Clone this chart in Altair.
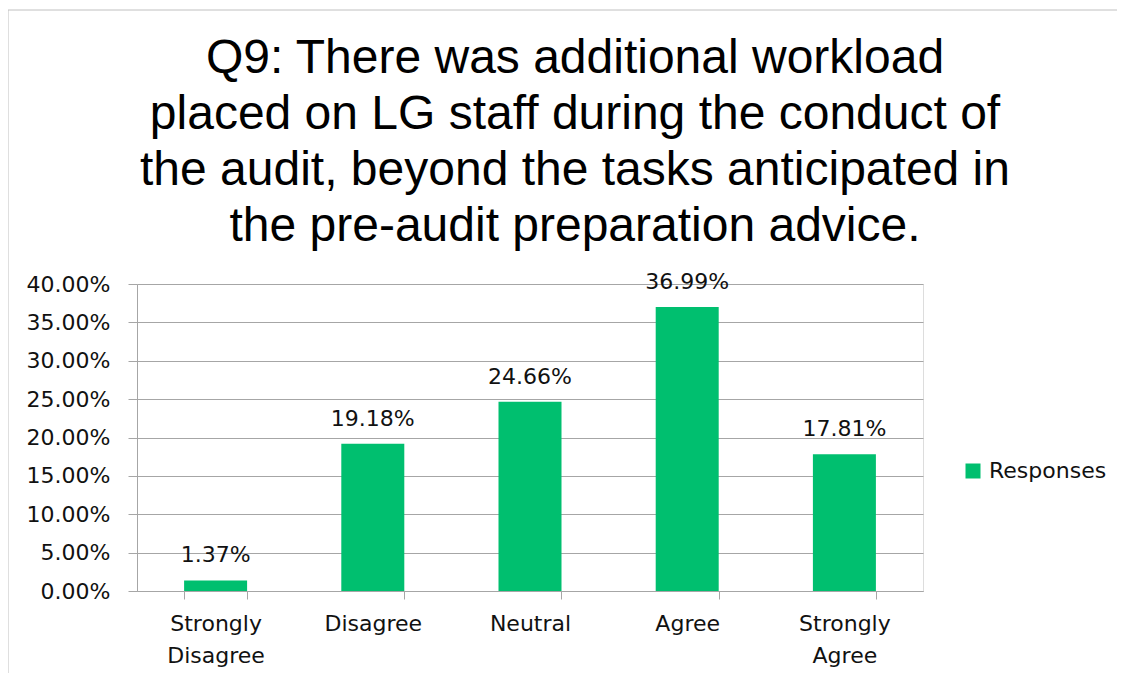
import altair as alt
import pandas as pd

categories = ["Strongly Disagree", "Disagree", "Neutral", "Agree", "Strongly Agree"]
values = [1.37, 19.18, 24.66, 36.99, 17.81]
series = ["Responses"] * 5
y_ticks = [0, 0.05, 0.1, 0.15, 0.2, 0.25, 0.3, 0.35, 0.4]
title_lines = [
    "Q9: There was additional workload",
    "placed on LG staff during the conduct of",
    "the audit, beyond the tasks anticipated in",
    "the pre-audit preparation advice.",
]

df = pd.DataFrame({"cat": categories, "val": [v / 100 for v in values], "series": series,
                   "lab": [f"{v:.2f}%" for v in values]})

GREEN = "#00BF6F"
GRID = "#A6A6A6"
FONT = "DejaVu Sans"

x = alt.X("cat:N", sort=categories, title=None,
          scale=alt.Scale(paddingInner=0.6, paddingOuter=0.3),
          axis=alt.Axis(labelAngle=0, labelFont=FONT, labelFontSize=22, labelColor="#111111",
                        labelExpr="split(datum.label, ' ')", labelLineHeight=32,
                        labelBaseline="top", labelPadding=14,
                        tickBand="extent", ticks=True, tickSize=8, tickColor=GRID,
                        domain=True, domainColor=GRID, grid=False))
y = alt.Y("val:Q", title=None,
          scale=alt.Scale(domain=[0, 0.4]),
          axis=alt.Axis(values=y_ticks, format=".2%",
                        labelFont=FONT, labelFontSize=22, labelColor="#111111", labelPadding=18,
                        ticks=True, tickSize=9, tickColor=GRID, domain=True, domainColor=GRID,
                        grid=True, gridColor=GRID, gridWidth=1))

bars = alt.Chart(df).mark_bar(size=63).encode(
    x=x, y=y,
    color=alt.Color("series:N", scale=alt.Scale(range=[GREEN]),
                    legend=alt.Legend(title=None, orient="none", legendX=825, legendY=176,
                                      symbolType="square", symbolSize=225, symbolStrokeWidth=0,
                                      labelFont=FONT, labelFontSize=22, labelColor="#111111",
                                      labelOffset=5, padding=0)),
)

labels = alt.Chart(df).mark_text(font=FONT, fontSize=22, color="#111111", baseline="alphabetic", dy=-18).encode(
    x=x, y=y, text="lab:N")

frame_df = pd.DataFrame({"k": ["a"]})
frame_left = alt.Chart(frame_df).mark_rule(color="#C0C0C0", strokeWidth=1).encode(
    x=alt.value(-129), y=alt.value(-274), y2=alt.value(400))
frame_top = alt.Chart(frame_df).mark_rule(color="#C0C0C0", strokeWidth=1).encode(
    x=alt.value(-129), x2=alt.value(1010), y=alt.value(-274))

chart = alt.layer(bars, labels, frame_left, frame_top).properties(
    width=786, height=307,
    title=alt.TitleParams(text=title_lines, font="Liberation Sans", fontSize=48, fontWeight="normal",
                          lineHeight=56, anchor="middle", dx=45, offset=-241, color="#000000"),
    autosize=alt.AutoSizeParams(type="none"),
    padding={"left": 129, "top": 276, "right": 194, "bottom": 82},
).configure_view(stroke=None).configure(background="white")

chart.save("out.html", embed_options={"renderer": "svg", "actions": False})
